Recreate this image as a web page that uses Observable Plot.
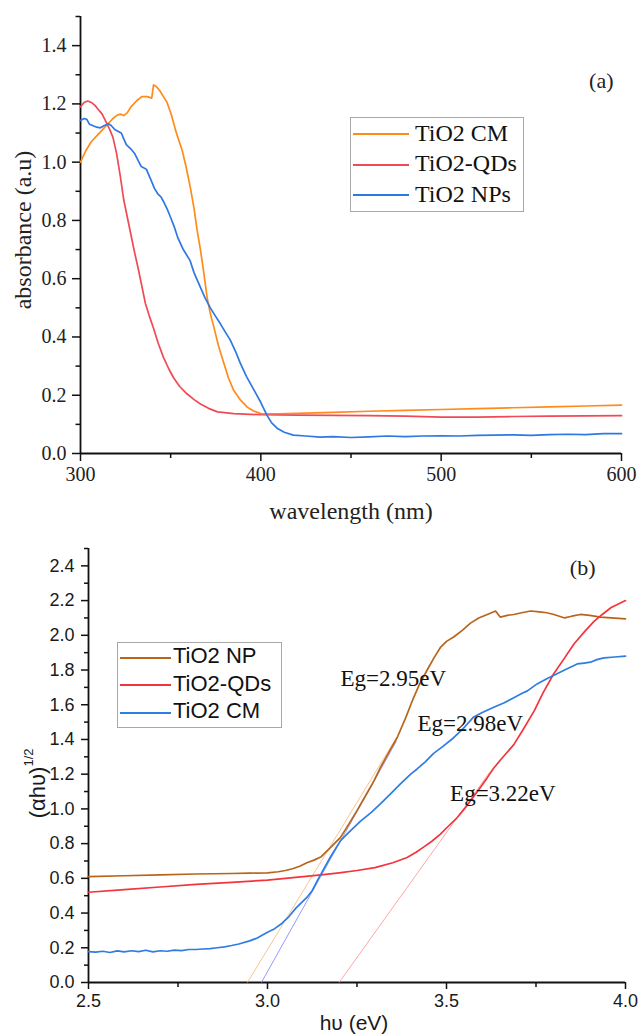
<!DOCTYPE html>
<html>
<head>
<meta charset="utf-8">
<script src="https://cdn.jsdelivr.net/npm/d3@7"></script>
<script src="https://cdn.jsdelivr.net/npm/@observablehq/plot@0.6"></script>
<style>
  body { margin: 0; background: #fff; }
  #wrap { position: relative; width: 640px; height: 1034px; overflow: hidden; }
  #wrap svg { position: absolute; left: 0; display: block; }
  .legend { position: absolute; border: 1px solid #a8a8a8; background: #fff; box-sizing: border-box; }
  .legend .sw { position: absolute; height: 2px; }
  .legend .lab { position: absolute; line-height: 1; color: #111; white-space: nowrap; }
</style>
</head>
<body>
<div id="wrap"></div>
<script>
// ---------- Panel (a): UV-Vis absorbance ----------
const seriesA = ["TiO2 CM", "TiO2-QDs", "TiO2 NPs"];
const colorsA = ["#ff8c1a", "#f04a55", "#2e78e4"];

const wlCM  = [300,303,306,309,312,315,318,320,322,324,326,328,331,334,337,339.5,340.5,342,344,346,348,350.5,352.7,354.5,356.4,358.5,361,363,364.7,366.5,368.5,370.2,372,374,376.5,379.5,382,385,388.5,392.5,396,400,410,420,440,460,480,500,520,540,560,580,600];
const absCM = [1.00,1.04,1.07,1.09,1.11,1.13,1.15,1.16,1.165,1.16,1.17,1.19,1.21,1.225,1.225,1.22,1.265,1.26,1.245,1.225,1.205,1.16,1.11,1.075,1.04,0.985,0.91,0.84,0.765,0.70,0.615,0.536,0.48,0.433,0.37,0.31,0.26,0.216,0.185,0.159,0.146,0.137,0.136,0.138,0.141,0.145,0.148,0.151,0.154,0.157,0.160,0.163,0.166];

const wlQD  = [300,302,304,306,308,310,312,314,316,318,320,322,324,326,328,330,332,334,336,338,340.5,343,346,349,351.6,355,359,363,366.5,371,376,385,400,420,440,460,480,500,520,540,560,580,600];
const absQD = [1.19,1.205,1.21,1.205,1.195,1.18,1.165,1.14,1.115,1.085,1.03,0.955,0.87,0.81,0.75,0.69,0.635,0.575,0.515,0.475,0.43,0.38,0.33,0.29,0.26,0.23,0.205,0.185,0.17,0.155,0.143,0.137,0.133,0.132,0.131,0.130,0.128,0.125,0.125,0.127,0.128,0.129,0.130];

const wlNP  = [300,302,303.5,305,307,309,311,313,315.5,317,319,321,322.6,324,325.4,328,330,332,333.7,336.5,339,341,343,344.7,346,348,350,352,354,357,360.7,363,366.5,369,372,375,377.5,380,383,386,388.6,392,396,400,403.5,406,409,413,418,425,433,440,450,460,470,480,490,500,510,520,530,540,550,560,570,580,590,600];
const absNP = [1.143,1.15,1.147,1.13,1.125,1.12,1.118,1.125,1.132,1.126,1.112,1.105,1.10,1.08,1.06,1.045,1.03,1.005,0.985,0.976,0.94,0.91,0.89,0.88,0.865,0.84,0.81,0.778,0.74,0.70,0.663,0.62,0.57,0.535,0.50,0.47,0.446,0.42,0.39,0.35,0.31,0.265,0.22,0.175,0.13,0.105,0.087,0.073,0.063,0.060,0.056,0.058,0.055,0.057,0.060,0.058,0.060,0.061,0.060,0.062,0.063,0.064,0.062,0.065,0.066,0.065,0.068,0.068];

const xTicksA = [300, 400, 500, 600];
const xMinorA = [350, 450, 550];
const yTicksA = [0, 0.2, 0.4, 0.6, 0.8, 1.0, 1.2, 1.4];
const yMinorA = [0.1, 0.3, 0.5, 0.7, 0.9, 1.1, 1.3, 1.5];

// ---------- Panel (b): Tauc plot ----------
const seriesB = ["TiO2 NP", "TiO2-QDs", "TiO2 CM"];
const colorsB = ["#b8651b", "#f4343c", "#2f7de1"];

const evNP = [2.5,2.6,2.7,2.8,2.9,2.95,3.0,3.03,3.05,3.07,3.09,3.11,3.13,3.15,3.175,3.204,3.225,3.25,3.275,3.297,3.316,3.34,3.362,3.385,3.408,3.425,3.446,3.465,3.483,3.5,3.52,3.545,3.567,3.59,3.614,3.637,3.65,3.67,3.688,3.71,3.735,3.76,3.78,3.8,3.83,3.85,3.874,3.9,3.93,3.96,4.0];
const tNP  = [0.61,0.615,0.62,0.625,0.628,0.63,0.632,0.638,0.645,0.655,0.67,0.69,0.705,0.725,0.775,0.836,0.905,0.99,1.08,1.16,1.24,1.33,1.41,1.52,1.64,1.72,1.80,1.87,1.93,1.965,1.99,2.03,2.07,2.10,2.12,2.14,2.105,2.115,2.12,2.13,2.14,2.135,2.13,2.12,2.10,2.11,2.12,2.115,2.105,2.10,2.095];

const evQD = [2.5,2.6,2.7,2.8,2.9,3.0,3.1,3.15,3.2,3.25,3.3,3.35,3.39,3.415,3.436,3.46,3.483,3.505,3.53,3.55,3.567,3.59,3.614,3.63,3.65,3.688,3.715,3.745,3.77,3.8,3.83,3.856,3.885,3.912,3.935,3.96,3.98,4.0];
const tQD  = [0.52,0.535,0.55,0.565,0.577,0.59,0.61,0.62,0.632,0.645,0.662,0.69,0.72,0.75,0.78,0.815,0.855,0.90,0.95,1.00,1.047,1.11,1.18,1.23,1.28,1.37,1.46,1.565,1.67,1.78,1.87,1.95,2.02,2.08,2.12,2.16,2.18,2.20];

const evCM = [2.5,2.52,2.54,2.56,2.58,2.6,2.62,2.64,2.66,2.68,2.7,2.72,2.74,2.76,2.78,2.8,2.82,2.84,2.86,2.88,2.9,2.92,2.95,2.97,3.0,3.02,3.04,3.06,3.08,3.09,3.11,3.125,3.14,3.15,3.175,3.204,3.23,3.26,3.29,3.316,3.345,3.372,3.4,3.418,3.44,3.464,3.49,3.52,3.55,3.576,3.6,3.632,3.66,3.688,3.71,3.726,3.753,3.78,3.81,3.84,3.865,3.885,3.902,3.92,3.94,3.97,4.0];
const tCM  = [0.178,0.175,0.18,0.173,0.182,0.176,0.183,0.178,0.186,0.176,0.183,0.18,0.186,0.184,0.19,0.19,0.193,0.195,0.2,0.205,0.213,0.222,0.24,0.255,0.29,0.31,0.34,0.38,0.43,0.45,0.49,0.53,0.59,0.627,0.72,0.817,0.87,0.93,0.98,1.03,1.09,1.145,1.2,1.23,1.27,1.32,1.36,1.41,1.47,1.53,1.555,1.585,1.61,1.64,1.665,1.68,1.72,1.75,1.78,1.81,1.835,1.84,1.845,1.86,1.87,1.875,1.88];

// tangent (extrapolation) lines: [start, end]
const tanNames  = ["NP fit", "CM fit", "QD fit"];
const tanColors = ["#f5bd8a", "#8c8cff", "#ff9c9c"];
const tanX0 = [2.944, 2.983, 3.20];
const tanY0 = [0, 0, 0];
const tanX1 = [3.36, 3.36, 3.62];
const tanY1 = [1.41, 1.39, 1.21];

const egLabels = ["Eg=2.95eV", "Eg=2.98eV", "Eg=3.22eV"];
const egX = [3.204, 3.419, 3.51];
const egY = [1.75, 1.49, 1.09];

const xTicksB = [2.5, 3.0, 3.5, 4.0];
const xMinorB = [2.75, 3.25, 3.75];
const yTicksB = [0, 0.2, 0.4, 0.6, 0.8, 1.0, 1.2, 1.4, 1.6, 1.8, 2.0, 2.2, 2.4];
const yMinorB = [0.1, 0.3, 0.5, 0.7, 0.9, 1.1, 1.3, 1.5, 1.7, 1.9, 2.1, 2.3, 2.5];

// ---------- build tables ----------
const rowsA = [
  ...wlCM.map((x, i) => ({x, y: absCM[i], s: seriesA[0]})),
  ...wlQD.map((x, i) => ({x, y: absQD[i], s: seriesA[1]})),
  ...wlNP.map((x, i) => ({x, y: absNP[i], s: seriesA[2]}))
];
const rowsB = [
  ...evNP.map((x, i) => ({x, y: tNP[i], s: seriesB[0]})),
  ...evQD.map((x, i) => ({x, y: tQD[i], s: seriesB[1]})),
  ...evCM.map((x, i) => ({x, y: tCM[i], s: seriesB[2]}))
];
const tanRows = tanNames.map((n, i) => ({n, x1: tanX0[i], y1: tanY0[i], x2: tanX1[i], y2: tanY1[i], c: tanColors[i]}));
const egRows = egLabels.map((t, i) => ({t, x: egX[i], y: egY[i]}));

const serif = "'Liberation Serif', 'Times New Roman', serif";
const sans = "'Liberation Sans', Arial, sans-serif";
const f1 = d3.format(".1f");

const plotA = Plot.plot({
  width: 640, height: 530,
  marginTop: 16, marginRight: 19, marginBottom: 77, marginLeft: 80,
  style: {fontFamily: serif, fontSize: "20px", color: "#222", background: "transparent", overflow: "visible"},
  x: {domain: [300, 600]},
  y: {domain: [0, 1.5]},
  color: {domain: seriesA, range: colorsA},
  marks: [
    Plot.axisX({ticks: xTicksA, tickSize: 8, tickPadding: 5, tickFormat: d3.format("d"), label: null, fontSize: 20, stroke: "#111", strokeWidth: 1.5}),
    Plot.axisX({ticks: xMinorA, tickSize: 5, tickFormat: () => "", label: null, stroke: "#111", strokeWidth: 1.5}),
    Plot.axisY({ticks: yTicksA, tickSize: 8, tickPadding: 6, tickFormat: f1, label: null, fontSize: 20, stroke: "#111", strokeWidth: 1.5}),
    Plot.axisY({ticks: yMinorA, tickSize: 4.5, tickFormat: () => "", label: null, stroke: "#111", strokeWidth: 1.5}),
    Plot.ruleX([300], {stroke: "#111", strokeWidth: 1.8}),
    Plot.ruleY([0], {stroke: "#111", strokeWidth: 1.8}),
    Plot.line(rowsA, {x: "x", y: "y", z: "s", stroke: "s", strokeWidth: 1.7}),
    Plot.text(["wavelength (nm)"], {frameAnchor: "bottom", textAnchor: "middle", lineAnchor: "middle", dy: 58, fontSize: 24, fill: "#222"}),
    Plot.text(["absorbance (a.u)"], {frameAnchor: "left", textAnchor: "middle", lineAnchor: "middle", rotate: -90, dx: -57, dy: -5, fontSize: 24, fill: "#222"}),
    Plot.text(["(a)"], {frameAnchor: "top-right", textAnchor: "end", lineAnchor: "middle", dx: -8, dy: 64, fontSize: 22, fill: "#222"})
  ]
});
plotA.style.top = "0px";

const plotB = Plot.plot({
  width: 640, height: 504,
  marginTop: 18, marginRight: 15, marginBottom: 52, marginLeft: 88,
  style: {fontFamily: sans, fontSize: "17px", color: "#1a1a1a", background: "transparent", overflow: "visible"},
  x: {domain: [2.5, 4.0]},
  y: {domain: [0, 2.5]},
  color: {domain: seriesB, range: colorsB},
  marks: [
    Plot.axisX({ticks: xTicksB, tickSize: 7, tickPadding: 5, tickFormat: f1, label: null, fontSize: 18, stroke: "#111", strokeWidth: 1.5}),
    Plot.axisX({ticks: xMinorB, tickSize: 5, tickFormat: () => "", label: null, stroke: "#111", strokeWidth: 1.5}),
    Plot.axisY({ticks: yTicksB, tickSize: 7, tickPadding: 7, tickFormat: f1, label: null, fontSize: 18, stroke: "#111", strokeWidth: 1.5}),
    Plot.axisY({ticks: yMinorB, tickSize: 4, tickFormat: () => "", label: null, stroke: "#111", strokeWidth: 1.5}),
    Plot.ruleX([2.5], {stroke: "#111", strokeWidth: 1.8}),
    Plot.ruleY([0], {stroke: "#111", strokeWidth: 1.8}),
    Plot.link(tanRows, {x1: "x1", y1: "y1", x2: "x2", y2: "y2", stroke: d => d.c, strokeWidth: 0.9}),
    Plot.line(rowsB, {x: "x", y: "y", z: "s", stroke: "s", strokeWidth: 1.7}),
    Plot.text(egRows, {x: "x", y: "y", text: "t", textAnchor: "start", lineAnchor: "middle", fontFamily: serif, fontSize: 23, fill: "#111"}),
    Plot.text(["hυ (eV)"], {frameAnchor: "bottom", textAnchor: "middle", lineAnchor: "middle", dx: -3, dy: 41, fontSize: 21, fill: "#1a1a1a"}),
    Plot.text(["(αhυ)"], {frameAnchor: "left", textAnchor: "middle", lineAnchor: "middle", rotate: -90, dx: -51, dy: 27, fontSize: 22, fill: "#1a1a1a"}),
    Plot.text(["1/2"], {frameAnchor: "left", textAnchor: "middle", lineAnchor: "middle", rotate: -90, dx: -60, dy: -8, fontSize: 13, fill: "#1a1a1a"}),
    Plot.text(["(b)"], {frameAnchor: "top-right", textAnchor: "end", lineAnchor: "middle", dx: -30, dy: 19, fontSize: 22, fontFamily: serif, fill: "#222"})
  ]
});
plotB.style.top = "530px";

const wrap = document.getElementById("wrap");
wrap.appendChild(plotA);
wrap.appendChild(plotB);

// ---------- legends (inside the frames) ----------
function makeLegend(names, colors, opt) {
  const box = document.createElement("div");
  box.className = "legend";
  Object.assign(box.style, {left: opt.left + "px", top: opt.top + "px", width: opt.w + "px", height: opt.h + "px"});
  names.forEach((n, i) => {
    const cy = opt.first + i * opt.step;
    const sw = document.createElement("div");
    sw.className = "sw";
    Object.assign(sw.style, {left: opt.swL + "px", width: opt.swW + "px", top: (cy - 1) + "px", background: colors[i]});
    const lab = document.createElement("div");
    lab.className = "lab";
    lab.textContent = n;
    Object.assign(lab.style, {left: opt.txL + "px", top: (cy - opt.fs * 0.55) + "px", fontSize: opt.fs + "px", fontFamily: opt.font});
    box.appendChild(sw);
    box.appendChild(lab);
  });
  wrap.appendChild(box);
}
makeLegend(seriesA, colorsA, {left: 350, top: 117, w: 174, h: 95, first: 16, step: 30.5, swL: 2, swW: 56, txL: 64, fs: 24, font: serif});
makeLegend(seriesB, colorsB, {left: 117, top: 642, w: 165, h: 86, first: 14.5, step: 27.5, swL: 2, swW: 51, txL: 55, fs: 22, font: sans});
</script>
</body>
</html>
